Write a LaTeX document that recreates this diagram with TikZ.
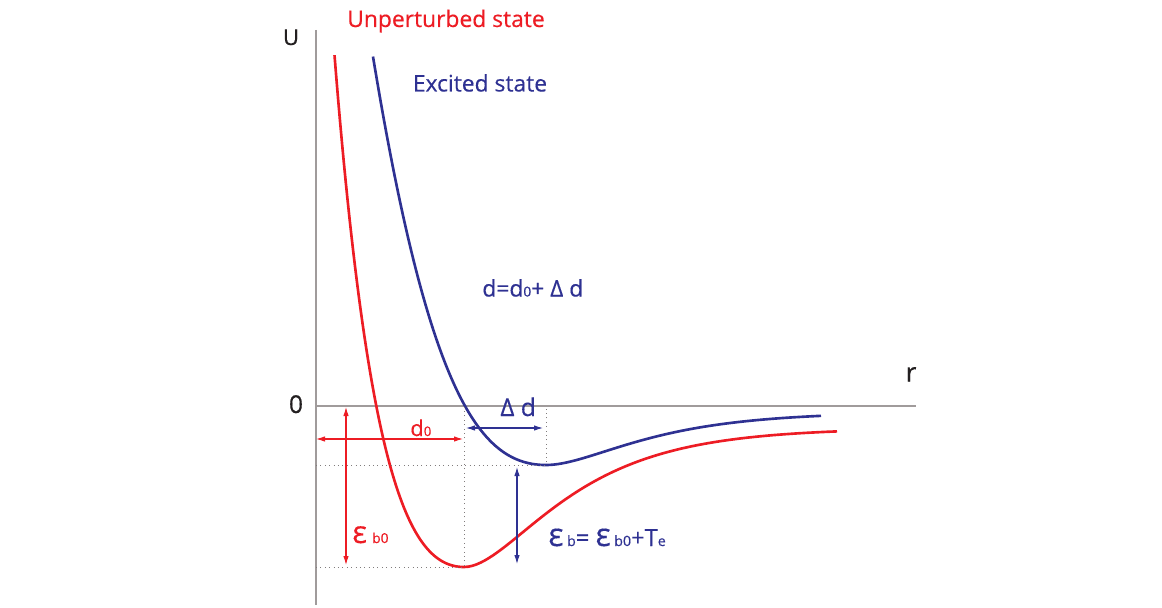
\documentclass[tikz,border=0pt]{standalone}
\usepackage{fontspec}
\usepackage{graphicx}
\setmainfont{Open Sans}[FakeBold=0.35]
\usetikzlibrary{arrows.meta,positioning}
\definecolor{mpRed}{RGB}{237,28,36}
\definecolor{mpBlue}{RGB}{46,49,146}
\definecolor{mpAxis}{HTML}{A09B9B}
\definecolor{mpInk}{HTML}{231F20}
\newcommand{\lowsub}[1]{\scalebox{0.6}{#1}}
\newcommand{\bigeps}{\scalebox{1.35}{ε}}
\tikzset{
  axis/.style={draw=mpAxis,line width=.8pt},
  guide/.style={draw=mpAxis!80!black,line width=.5pt,dotted},
  redcurve/.style={draw=mpRed,line width=1.5pt},
  bluecurve/.style={draw=mpBlue,line width=1.5pt},
  span/.style={{Latex[length=1.8mm,width=1.1mm]}-{Latex[length=1.8mm,width=1.1mm]},line width=.6pt},
  lbl/.style={inner sep=0pt,font=\fontsize{13}{15}\selectfont},
  axlbl/.style={lbl,text=mpInk},
}

\begin{document}
\begin{tikzpicture}[x=0.02cm,y=-0.02cm,
    declare function={morse(\d,\a)=(1-exp(-\a*\d))*(1-exp(-\a*\d))-1;
      wexp(\s)=exp(0.953*\s-0.12*\s*\s);
      wall(\d)=(1-wexp(\d/100))*(1-wexp(\d/100))-1;}]
  \useasboundingbox (0,0) rectangle (1162,608);
  % axes
  \coordinate (o) at (316,406);
  \coordinate (utop) at (316,30);
  \coordinate (ubot) at (316,605);
  \coordinate (rend) at (916,406);
  \draw[axis] (utop) -- (ubot);
  \draw[axis] (o) -- (rend);
  \node[axlbl,anchor=base,font=\fontsize{12.5}{14}\selectfont] (ulbl) at (291,45) {U};
  \node[axlbl,anchor=base,font=\fontsize{14}{16}\selectfont] (zlbl) at (296,413) {0};
  \node[axlbl,anchor=base,font=\fontsize{15}{17}\selectfont] (rlbl) at (911,381.5) {r};
  % potential curves
  \draw[redcurve] plot[domain=334.5:464,samples=70] (\x,{406-161*morse(\x-464,0.0079)})
    -- plot[domain=464:837,samples=90] (\x,{428-139*morse(\x-464,0.0118)});
  \draw[bluecurve] plot[domain=373:546,samples=90] (\x,{406-59*wall(546-\x)})
    -- plot[domain=546:821,samples=70] (\x,{412-53*morse(\x-546,0.012)});
  % minima and guides
  \coordinate (rmin) at (464,567);
  \coordinate (bmin) at (546,465);
  \draw[guide] (o |- rmin) -- (rmin) -- (rmin |- o);
  \draw[guide] (o |- bmin) -- (bmin) -- (bmin |- o);
  % dimension arrows
  \coordinate (dzl) at (316,439);
  \coordinate (dzr) at (463,439);
  \coordinate (ebzt) at (346,407);
  \coordinate (ebzb) at (346,565);
  \coordinate (ddl) at (466,428);
  \coordinate (ddr) at (543,428);
  \coordinate (ebt) at (517,467);
  \coordinate (ebb) at (517,564);
  \draw[span,mpRed] (dzl) -- (dzr);
  \draw[span,mpRed] (ebzt) -- (ebzb);
  \draw[span,mpBlue] (ddl) -- (ddr);
  \draw[span,mpBlue] (ebt) -- (ebb);
  % labels
  \node[lbl,text=mpRed,anchor=base] (unpert) at (446,27) {Unperturbed state};
  \node[lbl,text=mpBlue,anchor=base] (excited) at (480,91.5) {Excited state};
  \node[lbl,text=mpBlue,anchor=base west,font=\fontsize{13}{15}\selectfont] (dlaw)
    at (482,296.5) {d=d\lowsub{0}+ Δ d};
  \node[lbl,text=mpRed,anchor=base west,font=\fontsize{12.5}{14}\selectfont] (dzero)
    at (410,436) {d\lowsub{0}};
  \node[lbl,text=mpBlue,anchor=base west,font=\fontsize{14}{16}\selectfont] (deltad)
    at (500,416) {Δ d};
  \node[lbl,text=mpRed,anchor=base west] (ebzero)
    at (352,543) {\bigeps\hspace{3pt}\lowsub{b0}};
  \node[lbl,text=mpBlue,anchor=base west,font=\fontsize{13.5}{15}\selectfont] (eblaw)
    at (548,546) {\bigeps\hspace{2pt}\lowsub{b}= \bigeps\hspace{2pt}\lowsub{b0}+T\lowsub{e}};
\end{tikzpicture}
\end{document}
